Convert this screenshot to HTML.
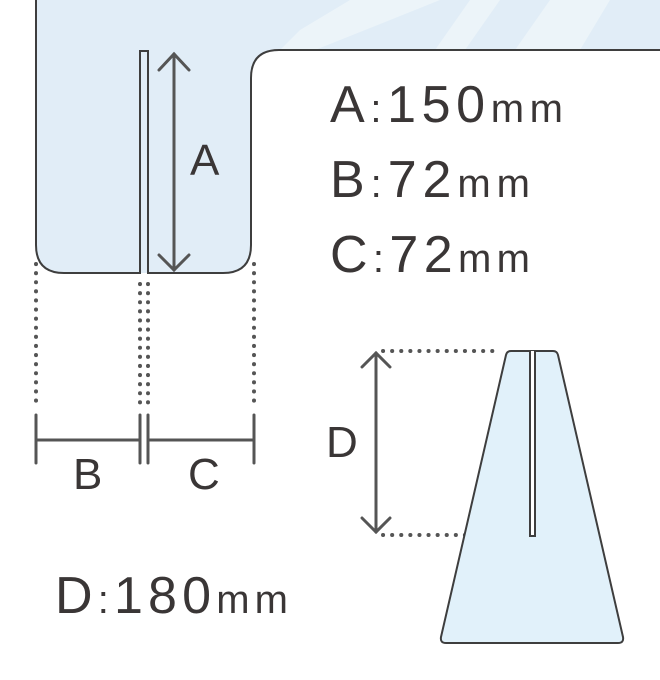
<!DOCTYPE html>
<html><head><meta charset="utf-8"><style>
html,body{margin:0;padding:0;background:#fff;}
svg{display:block}
text{font-family:"Liberation Sans","DejaVu Sans",sans-serif;fill:#3a3636}
</style></head><body>
<svg width="660" height="680" viewBox="0 0 660 680" xmlns="http://www.w3.org/2000/svg">
<defs>
<clipPath id="cp"><path d="M36 0 V245 Q36 273 64 273 H223 Q251 273 251 245 V78 Q251 50 279 50 H660 V0 Z"/></clipPath>
</defs>
<path d="M36 0 V245 Q36 273 64 273 H223 Q251 273 251 245 V78 Q251 50 279 50 H660 V0 Z" fill="#e1edf7"/>
<g clip-path="url(#cp)" fill="#ecf4f9">
<polygon points="350,0 440,0 315,50 280,50 300,30"/>
<polygon points="470,0 500,0 465,50 435,50"/>
<polygon points="550,0 610,0 580,50 515,50"/>
</g>
<path d="M36 0 V245 Q36 273 64 273 H140 V51 H148 V273 H223 Q251 273 251 245 V78 Q251 50 279 50 H660" fill="none" stroke="#3e3e3e" stroke-width="2"/>
<g stroke="#555" stroke-width="3" fill="none" stroke-linecap="round">
<line x1="174" y1="54" x2="174" y2="270"/>
<polyline points="159,70 174,54 189,70"/>
<polyline points="159,255 174,270 189,255"/>
</g>
<text x="190" y="175" font-size="44">A</text>
<g stroke="#555" stroke-width="4" stroke-linecap="round" stroke-dasharray="0.1 9" fill="none">
<line x1="36" y1="264" x2="36" y2="405"/>
<line x1="140" y1="284" x2="140" y2="410"/>
<line x1="148" y1="284" x2="148" y2="410"/>
<line x1="254" y1="264" x2="254" y2="405"/>
<line x1="383" y1="351" x2="497" y2="351"/>
<line x1="383" y1="535" x2="520" y2="535"/>
</g>
<g stroke="#555" stroke-width="3" stroke-linecap="round">
<line x1="36" y1="415" x2="36" y2="463"/>
<line x1="140" y1="415" x2="140" y2="463"/>
<line x1="148" y1="415" x2="148" y2="463"/>
<line x1="254" y1="415" x2="254" y2="463"/>
<line x1="36" y1="440" x2="140" y2="440"/>
<line x1="148" y1="440" x2="254" y2="440"/>
</g>
<text x="73" y="489" font-size="44">B</text>
<text x="188" y="489" font-size="44">C</text>
<path d="M511 351 H553 Q557 351 558 355 L623 637 Q624 643 618 643 H446 Q440 643 441 637 L506 355 Q507 351 511 351 Z" fill="#e1f1fa" stroke="#3e3e3e" stroke-width="2"/>
<path d="M530 351 V536 H535 V351" fill="#fff" stroke="#3e3e3e" stroke-width="2"/>
<g stroke="#555" stroke-width="3" fill="none" stroke-linecap="round">
<line x1="376" y1="353" x2="376" y2="532"/>
<polyline points="362,367 376,353 390,367"/>
<polyline points="362,518 376,532 390,518"/>
</g>
<text x="326" y="457" font-size="44">D</text>
<text x="330" y="122" font-size="52" textLength="233" lengthAdjust="spacing">A<tspan font-size="40">:</tspan>150<tspan font-size="40">mm</tspan></text>
<text x="330" y="197" font-size="52" textLength="200" lengthAdjust="spacing">B<tspan font-size="40">:</tspan>72<tspan font-size="40">mm</tspan></text>
<text x="330" y="272" font-size="52" textLength="200" lengthAdjust="spacing">C<tspan font-size="40">:</tspan>72<tspan font-size="40">mm</tspan></text>
<text x="55" y="613" font-size="52" textLength="233" lengthAdjust="spacing">D<tspan font-size="40">:</tspan>180<tspan font-size="40">mm</tspan></text>
</svg>
</body></html>
